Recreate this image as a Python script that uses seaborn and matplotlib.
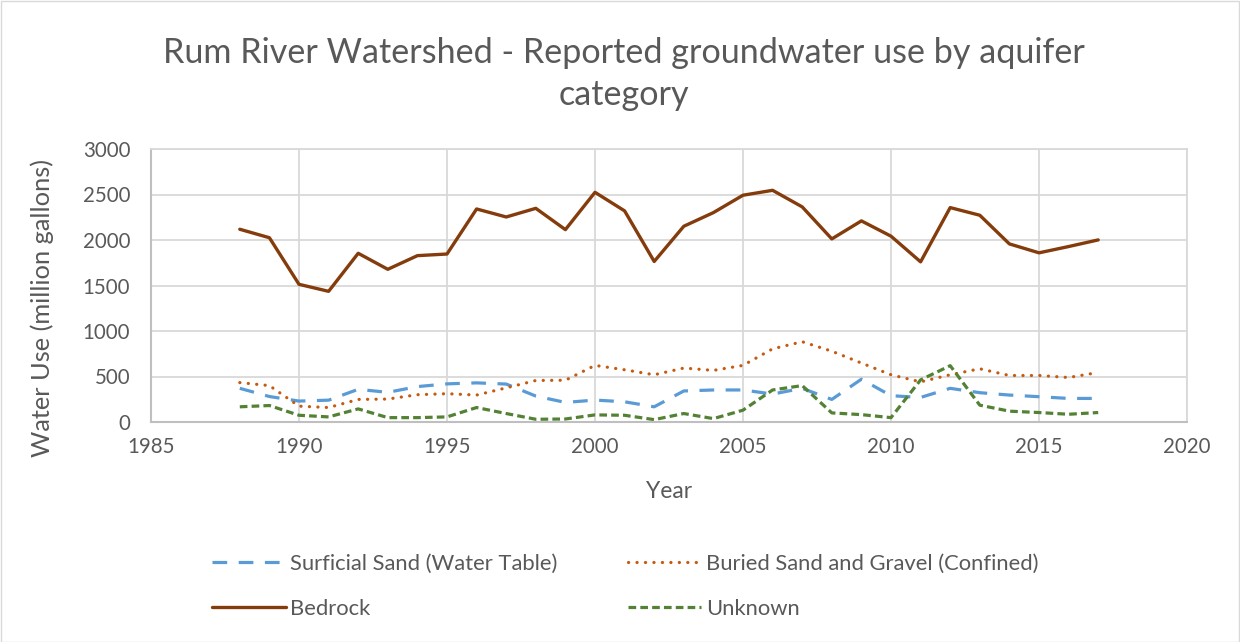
import matplotlib
matplotlib.use("Agg")
import matplotlib.pyplot as plt
import seaborn as sns
import pandas as pd
from matplotlib.patches import Rectangle

years = list(range(1988, 2018))

surficial = [370, 280, 230, 240, 359, 326, 389, 419, 430, 417, 285, 215, 241, 222, 167,
             341, 352, 352, 307, 370, 248, 470, 289, 270, 370, 322, 296, 278, 259, 259]
buried = [433, 400, 174, 159, 248, 252, 300, 311, 296, 375, 456, 459, 622, 574, 519,
          593, 567, 622, 804, 882, 778, 648, 519, 441, 519, 585, 511, 511, 489, 544]
bedrock = [2118, 2025, 1513, 1436, 1854, 1678, 1828, 1846, 2341, 2253, 2348, 2114, 2524, 2320, 1764,
           2151, 2301, 2492, 2546, 2364, 2012, 2210, 2042, 1760, 2356, 2272, 1957, 1859, 1928, 2001]
unknown = [167, 181, 74, 56, 144, 48, 48, 56, 159, 93, 30, 33, 78, 74, 26,
           93, 37, 130, 352, 400, 100, 81, 48, 463, 619, 185, 119, 104, 85, 104]

series_names = ["Surficial Sand (Water Table)", "Buried Sand and Gravel (Confined)", "Bedrock", "Unknown"]
x_ticks = [1985, 1990, 1995, 2000, 2005, 2010, 2015, 2020]
y_ticks = [0, 500, 1000, 1500, 2000, 2500, 3000]

title = "Rum River Watershed - Reported groundwater use by aquifer\ncategory"
x_label = "Year"
y_label = "Water Use (million gallons)"

df = pd.concat([
    pd.DataFrame({"Year": years, "Value": v, "Series": n})
    for n, v in zip(series_names, [surficial, buried, bedrock, unknown])
])

sns.set_style("white")
plt.rcParams["font.family"] = ["Lato", "DejaVu Sans"]
TXT = "#595959"

fig = plt.figure(figsize=(12.4, 6.42), dpi=100)
ax = fig.add_axes([151 / 1240, 1 - 422 / 642, (1187 - 151) / 1240, (422 - 149) / 642])

styles = {
    series_names[0]: dict(color="#5b9bd5", lw=2.3, dashes=(4.6, 3.6), capstyle="butt"),
    series_names[1]: dict(color="#c55a11", lw=2.3, dashes=(0.05, 2.6), capstyle="round"),
    series_names[2]: dict(color="#843c0c", lw=2.4, dashes=None, capstyle="round"),
    series_names[3]: dict(color="#548235", lw=2.3, dashes=(2.4, 1.3), capstyle="butt"),
}

handles = {}
for name in series_names:
    st = styles[name]
    sub = df[df["Series"] == name]
    sns.lineplot(data=sub, x="Year", y="Value", ax=ax, color=st["color"], lw=st["lw"], label=name, legend=False)
    line = ax.lines[-1]
    if st["dashes"] is not None:
        line.set_dashes(st["dashes"])
    line.set_dash_capstyle(st["capstyle"])
    line.set_solid_capstyle("round")
    line.set_solid_joinstyle("round")
    handles[name] = line

ax.set_xlim(1985, 2020)
ax.set_ylim(0, 3000)
ax.set_xticks(x_ticks)
ax.set_yticks(y_ticks)
ax.grid(True, color="#d9d9d9", lw=1.3)
ax.set_axisbelow(True)
for s in ["top", "right"]:
    ax.spines[s].set_color("#d9d9d9")
    ax.spines[s].set_linewidth(1.3)
for s in ["left", "bottom"]:
    ax.spines[s].set_color("#bfbfbf")
    ax.spines[s].set_linewidth(1.5)
ax.tick_params(axis="both", length=0, labelsize=14.8, labelcolor=TXT)
ax.tick_params(axis="y", pad=15)
ax.tick_params(axis="x", pad=11)
ax.set_xlabel("")
ax.set_ylabel("")

fig.text(624 / 1240, 1 - 74 / 642, title, ha="center", va="center", fontsize=24.6, color=TXT, linespacing=1.38)
fig.text(669 / 1240, 1 - 492 / 642, x_label, ha="center", va="center", fontsize=16.5, color=TXT)
fig.text(42 / 1240, 1 - 308 / 642, y_label, ha="center", va="center", rotation=90, fontsize=18.3, color=TXT)

# column-major fill order so that rows read: Surficial, Buried / Bedrock, Unknown
order = [series_names[0], series_names[2], series_names[1], series_names[3]]
fig.legend(handles=[handles[n] for n in order], labels=order, loc="upper left",
           bbox_to_anchor=(212 / 1240, 1 - 554 / 642), ncol=2, frameon=False,
           fontsize=15.8, handlelength=3.35, handletextpad=0.22, columnspacing=3.2,
           labelspacing=1.12, borderpad=0, borderaxespad=0, labelcolor=TXT)

fig.add_artist(Rectangle((0.5 / 1240, 0.5 / 642), 1 - 1.5 / 1240, 1 - 1.5 / 642, transform=fig.transFigure,
                         fill=False, edgecolor="#d9d9d9", lw=1.0))

fig.savefig("out.png", dpi=100, facecolor="white")
